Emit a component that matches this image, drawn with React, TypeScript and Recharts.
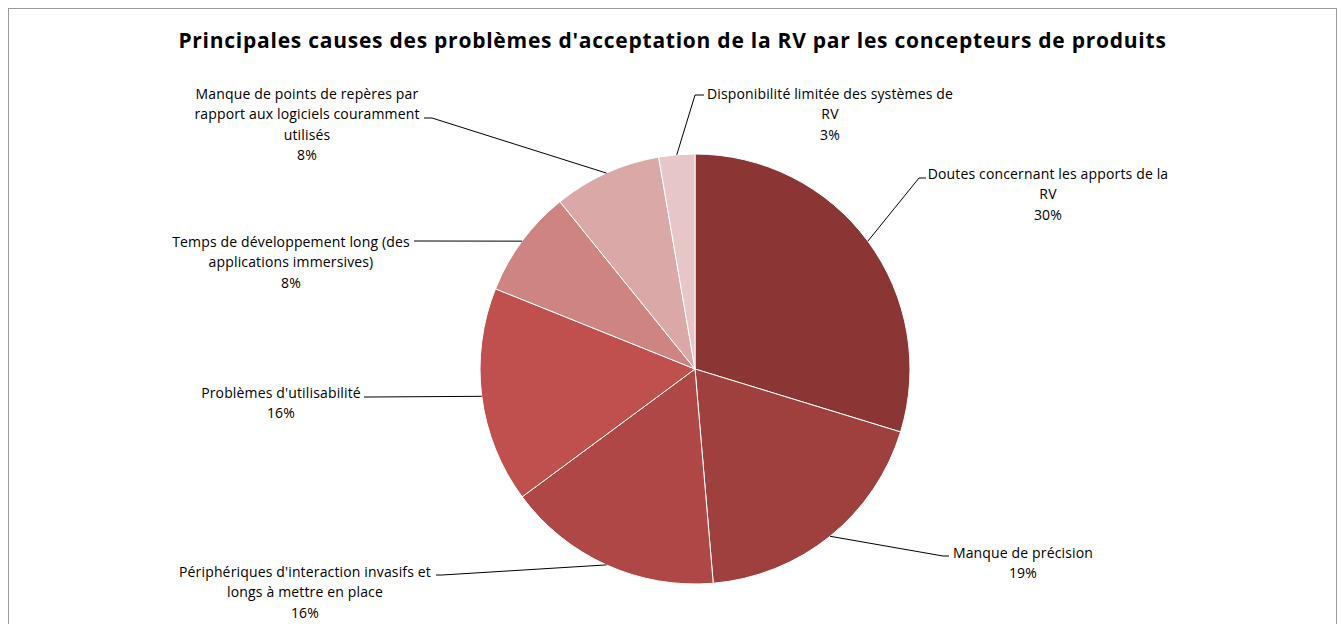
import React from "react";
import { PieChart, Pie, Cell } from "recharts";

const TITLE = "Principales causes des problèmes d'acceptation de la RV par les concepteurs de produits";

const categories = [
  "Doutes concernant les apports de la RV",
  "Manque de précision",
  "Périphériques d'interaction invasifs et longs à mettre en place",
  "Problèmes d'utilisabilité",
  "Temps de développement long (des applications immersives)",
  "Manque de points de repères par rapport aux logiciels couramment utilisés",
  "Disponibilité limitée des systèmes de RV",
];

const counts = [11, 7, 6, 6, 3, 3, 1];

const labelLines = [
  ["Doutes concernant les apports de la", "RV"],
  ["Manque de précision"],
  ["Périphériques d'interaction invasifs et", "longs à mettre en place"],
  ["Problèmes d'utilisabilité"],
  ["Temps de développement long (des", "applications immersives)"],
  ["Manque de points de repères par", "rapport aux logiciels couramment", "utilisés"],
  ["Disponibilité limitée des systèmes de", "RV"],
];

const percentLabels = ["30%", "19%", "16%", "16%", "8%", "8%", "3%"];

const colors = ["#8B3634", "#9F403E", "#AE4745", "#C0504D", "#CE8582", "#D9A8A7", "#E6C6C6"];

// label layout, relative to pie centre: text centre x, first line y, elbow, tick end
const labelLayout = [
  { tx: 353, ty: -196, ex: 224, ey: -191, kx: 231, ky: -191 },
  { tx: 328, ty: 183, ex: 248, ey: 187, kx: 254, ky: 187 },
  { tx: -390, ty: 202, ex: -253, ey: 206, kx: -259, ky: 206 },
  { tx: -414, ty: 23, ex: -325, ey: 28, kx: -331, ky: 28 },
  { tx: -404, ty: -128, ex: -275, ey: -128, kx: -281, ky: -128 },
  { tx: -388, ty: -276, ex: -263, ey: -251, kx: -271, ky: -251 },
  { tx: 135, ty: -276, ex: 0, ey: -274, kx: 9, ky: -274 },
];

const data = categories.map((name, i) => ({ name, value: counts[i] }));

const FONT = "'Open Sans', Lato, sans-serif";
const LINE_H = 20.5;
const RADIAN = Math.PI / 180;

const renderLabel = (props: any) => {
  const { cx, cy, midAngle, outerRadius, index } = props;
  const L = labelLayout[index];
  const sx = cx + outerRadius * Math.cos(-midAngle * RADIAN);
  const sy = cy + outerRadius * Math.sin(-midAngle * RADIAN);
  const lines = [...labelLines[index], percentLabels[index]];
  const pts = `${sx},${sy} ${cx + L.ex},${cy + L.ey} ${cx + L.kx},${cy + L.ky}`;
  return (
    <g key={`lbl-${index}`}>
      <polyline points={pts} fill="none" stroke="#000" strokeWidth={1} />
      <text
        x={cx + L.tx}
        y={cy + L.ty}
        textAnchor="middle"
        fontFamily={FONT}
        fontSize={14}
        letterSpacing={0.15}
        fill="#000"
      >
        {lines.map((t, j) => (
          <tspan key={j} x={cx + L.tx} y={cy + L.ty + j * LINE_H} dominantBaseline="central">
            {t}
          </tspan>
        ))}
      </text>
    </g>
  );
};

export default function App() {
  return (
    <div
      style={{
        position: "fixed",
        left: 8,
        top: 8,
        width: 1327,
        height: 616,
        borderTop: "1px solid #9a9a9a",
        borderLeft: "1px solid #9a9a9a",
        borderRight: "1px solid #9a9a9a",
        background: "#fff",
        overflow: "hidden",
      }}
    >
      <div
        style={{
          position: "absolute",
          left: 0,
          top: 18,
          width: 1327,
          textAlign: "center",
          fontFamily: FONT,
          fontWeight: 700,
          fontSize: 21,
          letterSpacing: 0.75,
          color: "#000",
          lineHeight: "26px",
          whiteSpace: "nowrap",
        }}
      >
        {TITLE}
      </div>
      <PieChart
        width={1327}
        height={616}
        margin={{ top: 0, right: 0, bottom: 0, left: 0 }}
        style={{ position: "absolute", left: 0, top: 0 }}
      >
        <Pie
          data={data}
          dataKey="value"
          nameKey="name"
          cx={686}
          cy={360}
          outerRadius={215}
          startAngle={90}
          endAngle={-270}
          stroke="#ffffff"
          strokeWidth={1}
          label={renderLabel}
          labelLine={false}
          isAnimationActive={false}
        >
          {data.map((d, i) => (
            <Cell key={d.name} fill={colors[i]} />
          ))}
        </Pie>
      </PieChart>
    </div>
  );
}
